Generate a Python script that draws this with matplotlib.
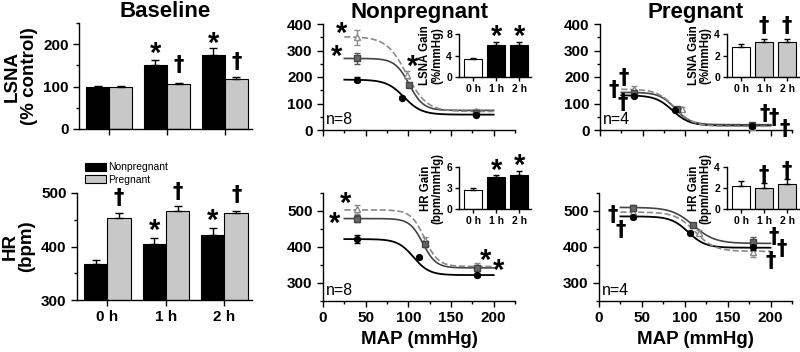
import numpy as np
import matplotlib
matplotlib.use('Agg')
import matplotlib.pyplot as plt
from matplotlib.ticker import MultipleLocator

plt.rcParams['font.family'] = ['Liberation Sans', 'DejaVu Sans']
plt.rcParams['font.weight'] = 'bold'
plt.rcParams['axes.linewidth'] = 1.0

# ---------------- data ----------------
times = ['0 h', '1 h', '2 h']
groups = ['Nonpregnant', 'Pregnant']

# Baseline LSNA (% control)
base_lsna_np = [100, 150, 174]
base_lsna_np_err = [1, 13, 17]
base_lsna_p = [100, 105, 117]
base_lsna_p_err = [1, 4, 5]
# Baseline HR (bpm)
base_hr_np = [367, 404, 422]
base_hr_np_err = [7, 12, 13]
base_hr_p = [453, 466, 462]
base_hr_p_err = [10, 10, 4]

# Baroreflex points: MAP, value, error for 0 h, 1 h, 2 h
np_lsna_map = [[40, 93, 179], [40, 101, 179], [40, 99, 179]]
np_lsna_val = [[190, 122, 58], [270, 171, 63], [350, 209, 72]]
np_lsna_err = [[10, 6, 5], [20, 8, 5], [28, 12, 8]]
np_hr_map = [[40, 112, 180], [40, 119, 180], [40, 120, 180]]
np_hr_val = [[422, 372, 322], [479, 408, 341], [505, 419, 348]]
np_hr_err = [[12, 4, 6], [10, 8, 6], [12, 10, 8]]
p_lsna_map = [[40, 88, 178], [40, 90, 178], [40, 96, 178]]
p_lsna_val = [[130, 76, 15], [141, 78, 17], [154, 80, 10]]
p_lsna_err = [[6, 5, 3], [8, 6, 4], [12, 8, 5]]
p_hr_map = [[40, 106, 180], [40, 110, 180], [40, 116, 180]]
p_hr_val = [[484, 440, 399], [509, 462, 415], [497, 440, 386]]
p_hr_err = [[5, 5, 8], [8, 6, 12], [10, 8, 15]]

# Fitted sigmoid parameters (top, bottom, midpoint, slope) for 0 h, 1 h, 2 h
np_lsna_fit = [(190, 58, 95, 0.097), (270, 74, 101, 0.12), (352, 70, 98, 0.085)]
np_hr_fit = [(422, 322, 106, 0.108), (479, 342, 117, 0.13), (503, 346, 119, 0.125)]
p_lsna_fit = [(131, 17, 85, 0.10), (142, 20, 88, 0.11), (154, 14, 88, 0.095)]
p_hr_fit = [(485, 398, 104, 0.10), (510, 410, 110, 0.08), (497, 388, 112, 0.088)]

# Gains (insets)
np_lsna_gain = [3.3, 6.0, 6.0]
np_lsna_gain_err = [0.2, 0.55, 0.55]
np_hr_gain = [2.75, 4.5, 4.9]
np_hr_gain_err = [0.3, 0.4, 0.5]
p_lsna_gain = [2.8, 3.3, 3.3]
p_lsna_gain_err = [0.3, 0.25, 0.25]
p_hr_gain = [2.2, 2.0, 2.4]
p_hr_gain_err = [0.45, 0.5, 0.45]

# ---------------- figure ----------------
W, H = 800, 352
fig = plt.figure(figsize=(8, 3.52), dpi=100)


def px_axes(x0, y0, x1, y1):
    return fig.add_axes([x0 / W, 1 - y1 / H, (x1 - x0) / W, (y1 - y0) / H])


def style(ax, fs=11):
    for s in ['top', 'right']:
        ax.spines[s].set_visible(False)
    ax.tick_params(which='both', direction='out', width=1, labelsize=fs)
    ax.tick_params(which='major', length=4)
    ax.tick_params(which='minor', length=2.5)
    for lab in ax.get_xticklabels() + ax.get_yticklabels():
        lab.set_fontweight('bold')


def star(ax, x, y, size=21, dx=0):
    ax.annotate('*', (x, y), xytext=(dx, -3), textcoords='offset points',
                ha='center', va='center', fontsize=size, fontweight='bold',
                annotation_clip=False)


def dagger(ax, x, y, size=15):
    ax.annotate('\u2020', (x, y), ha='center', va='center', fontsize=size,
                fontweight='bold', annotation_clip=False,
                family=['DejaVu Sans'])


GRAY_BAR = '#c8c8c8'
BAR_W = 0.4

# ---- Baseline LSNA ----
ax = px_axes(79, 23, 252, 129)
xpos = np.arange(len(times))
b1 = ax.bar(xpos - BAR_W / 2, base_lsna_np, BAR_W, color='black', edgecolor='black', lw=0.8,
            yerr=[[0] * 3, base_lsna_np_err], capsize=3, error_kw=dict(elinewidth=1, capthick=1))
b2 = ax.bar(xpos + BAR_W / 2, base_lsna_p, BAR_W, color=GRAY_BAR, edgecolor='black', lw=0.8,
            yerr=[[0] * 3, base_lsna_p_err], capsize=3, error_kw=dict(elinewidth=1, capthick=1))
ax.set_xlim(-0.52, 2.47)
ax.set_ylim(0, 250)
ax.set_xticks(xpos)
ax.set_xticklabels([])
ax.set_yticks([0, 100, 200])
ax.yaxis.set_minor_locator(MultipleLocator(50))
style(ax)
ax.set_title('Baseline', fontsize=16, fontweight='bold', pad=4)
ax.set_ylabel('LSNA\n(% control)', fontsize=13.5, fontweight='bold', labelpad=4, linespacing=1.0)
star(ax, 1 - BAR_W / 2, 188)
dagger(ax, 1 + BAR_W / 2, 150)
star(ax, 2 - BAR_W / 2, 211)
dagger(ax, 2 + BAR_W / 2, 158)

# ---- Baseline HR ----
ax = px_axes(77, 193, 252, 300)
ax.bar(xpos - BAR_W / 2, base_hr_np, BAR_W, color='black', edgecolor='black', lw=0.8,
       yerr=[[0] * 3, base_hr_np_err], capsize=3, error_kw=dict(elinewidth=1, capthick=1))
ax.bar(xpos + BAR_W / 2, base_hr_p, BAR_W, color=GRAY_BAR, edgecolor='black', lw=0.8,
       yerr=[[0] * 3, base_hr_p_err], capsize=3, error_kw=dict(elinewidth=1, capthick=1))
ax.set_xlim(-0.52, 2.47)
ax.set_ylim(300, 500)
ax.set_xticks(xpos)
ax.set_xticklabels(times)
ax.set_yticks([300, 400, 500])
ax.yaxis.set_minor_locator(MultipleLocator(50))
style(ax)
ax.set_ylabel('HR\n(bpm)', fontsize=13.5, fontweight='bold', labelpad=4, linespacing=1.0)
dagger(ax, 0 + BAR_W / 2, 490)
star(ax, 1 - BAR_W / 2, 437)
dagger(ax, 1 + BAR_W / 2, 502)
star(ax, 2 - BAR_W / 2, 456)
dagger(ax, 2 + BAR_W / 2, 496)
leg = ax.legend([b1, b2], groups, loc='upper left', bbox_to_anchor=(80 / W, 1 - 157 / H),
                bbox_transform=fig.transFigure, frameon=False, borderpad=0, handlelength=2.0,
                handleheight=0.8, handletextpad=0.2, labelspacing=0.25,
                prop=dict(family='Liberation Sans', weight='normal', size=7.5))

# ---- curve panels ----
map_grid = np.linspace(25, 200, 300)


def sigmoid(x, top, bottom, x50, k):
    return bottom + (top - bottom) / (1 + np.exp(k * (x - x50)))


line_styles = [dict(color='black', ls='-', lw=1.3),
               dict(color='#444444', ls='-', lw=1.2),
               dict(color='#8a8a8a', ls='--', lw=1.2)]
marker_styles = [dict(marker='o', mfc='black', mec='black', ms=4.2, ecolor='black'),
                 dict(marker='s', mfc='#666666', mec='#444444', ms=4.2, ecolor='#555555'),
                 dict(marker='^', mfc='white', mec='#8a8a8a', ms=4.8, ecolor='#8a8a8a')]


def curve_panel(box, maps, vals, errs, fits, ylim, yticks, ylocm, show_x, nlabel):
    ax = px_axes(*box)
    for i in range(3):
        ax.plot(map_grid, sigmoid(map_grid, *fits[i]), **line_styles[i], zorder=2)
    for i in [2, 1, 0]:
        ax.errorbar(maps[i], vals[i], yerr=errs[i], ls='none', capsize=2.5, elinewidth=1,
                    capthick=1, zorder=3, **marker_styles[i])
    ax.set_xlim(0, 225)
    ax.set_ylim(*ylim)
    ax.set_xticks([0, 50, 100, 150, 200])
    ax.xaxis.set_minor_locator(MultipleLocator(25))
    ax.set_yticks(yticks)
    ax.yaxis.set_minor_locator(MultipleLocator(ylocm))
    style(ax)
    if show_x:
        ax.set_xlabel('MAP (mmHg)', fontsize=13.5, fontweight='bold', labelpad=4)
    else:
        ax.set_xticklabels([])
    ax.text(0.015, 0.03, nlabel, transform=ax.transAxes, fontsize=11.5, fontweight='normal',
            ha='left', va='bottom')
    return ax


ax_npl = curve_panel((323, 24, 515, 130), np_lsna_map, np_lsna_val, np_lsna_err, np_lsna_fit,
                     (0, 400), [0, 100, 200, 300, 400], 50, False, 'n=8')
ax_npl.set_title('Nonpregnant', fontsize=16, fontweight='bold', pad=4)
star(ax_npl, 22, 380)
star(ax_npl, 16, 293)
star(ax_npl, 105, 255)

ax_nph = curve_panel((323, 193, 515, 301), np_hr_map, np_hr_val, np_hr_err, np_hr_fit,
                     (250, 550), [300, 400, 500], 50, True, 'n=8')
star(ax_nph, 26, 530)
star(ax_nph, 14, 477)
star(ax_nph, 191, 373)
star(ax_nph, 206, 346)

ax_pl = curve_panel((600, 24, 792, 130), p_lsna_map, p_lsna_val, p_lsna_err, p_lsna_fit,
                    (0, 400), [0, 100, 200, 300, 400], 50, False, 'n=4')
ax_pl.set_title('Pregnant', fontsize=16, fontweight='bold', pad=4)
dagger(ax_pl, 28, 197)
dagger(ax_pl, 16, 151)
dagger(ax_pl, 27, 101)
dagger(ax_pl, 193, 62)
dagger(ax_pl, 204, 44)
dagger(ax_pl, 216, 2)

ax_ph = curve_panel((599, 193, 792, 301), p_hr_map, p_hr_val, p_hr_err, p_hr_fit,
                    (250, 550), [300, 400, 500], 50, True, 'n=4')
dagger(ax_ph, 16, 490)
dagger(ax_ph, 25, 446)
dagger(ax_ph, 204, 428)
dagger(ax_ph, 213, 394)
dagger(ax_ph, 200, 362)


# ---- insets ----
def inset(box, vals, errs, colors, ylim, yticks, ylabel):
    ax = px_axes(*box)
    ax.bar(xpos, vals, 0.8, color=colors, edgecolor='black', lw=0.8,
           yerr=[[0] * 3, errs], capsize=2.5, error_kw=dict(elinewidth=1, capthick=1))
    ax.set_xlim(-0.62, 2.52)
    ax.set_ylim(*ylim)
    ax.set_xticks(xpos)
    ax.set_xticklabels(times)
    ax.set_yticks(yticks)
    style(ax, fs=7.5)
    ax.tick_params(which='major', length=3, pad=2)
    ax.set_ylabel(ylabel, fontsize=8.3, fontweight='bold', labelpad=2, linespacing=1.0)
    return ax


ins = inset((459, 34, 531, 77), np_lsna_gain, np_lsna_gain_err, ['white', 'black', 'black'],
            (0, 8), [0, 4, 8], 'LSNA Gain\n(%/mmHg)')
star(ins, 1, 8.3, 21)
star(ins, 2, 8.3, 21)
ins = inset((459, 167, 531, 209), np_hr_gain, np_hr_gain_err, ['white', 'black', 'black'],
            (0, 6), [0, 3, 6], 'HR Gain\n(bpm/mmHg)')
star(ins, 1, 6.1, 21)
star(ins, 2, 6.8, 21)
ins = inset((727, 34, 799, 77), p_lsna_gain, p_lsna_gain_err, ['white', GRAY_BAR, GRAY_BAR],
            (0, 4), [0, 2, 4], 'LSNA Gain\n(%/mmHg)')
dagger(ins, 1, 4.7)
dagger(ins, 2, 4.7)
ins = inset((727, 167, 799, 209), p_hr_gain, p_hr_gain_err, ['white', GRAY_BAR, GRAY_BAR],
            (0, 4), [0, 2, 4], 'HR Gain\n(bpm/mmHg)')
dagger(ins, 1, 3.2)
dagger(ins, 2, 3.6)

fig.savefig('out.png', dpi=100)
